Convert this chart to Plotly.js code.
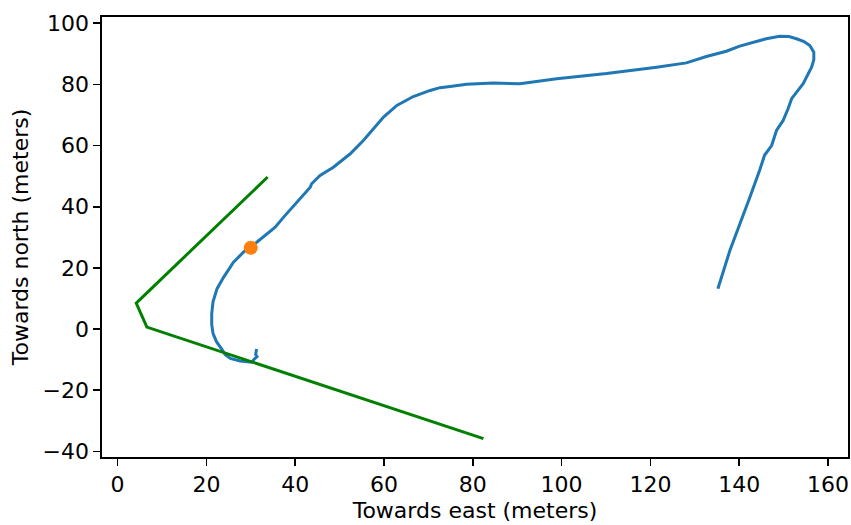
<!DOCTYPE html>
<html>
<head>
<meta charset="utf-8">
<script src="https://cdn.plot.ly/plotly-3.0.1.min.js"></script>
<style>html,body{margin:0;padding:0;background:#fff;}#chart{width:851px;height:525px;}</style>
</head>
<body>
<div id="chart"></div>
<script>
// Trajectory (blue), meters east / north
const trackEast = [31.3, 31.1, 31.4, 30.9, 30.2, 28.8, 27.6, 25.4, 24.2, 23.5, 22.3, 21.5, 21.2, 21.2, 21.5, 22.4, 23.9, 26.1, 28.4, 30.0, 31.4, 33.6, 35.5, 37.4, 41.1, 43.4, 43.7, 45.6, 48.6, 52.4, 55.4, 57.6, 59.9, 62.9, 66.6, 70.4, 72.6, 74.9, 78.6, 84.6, 90.6, 98.9, 110.1, 121.4, 128.1, 132.6, 137.1, 140.1, 143.1, 146.1, 149.1, 151.2, 152.9, 154.6, 155.9, 156.8, 156.8, 156.3, 154.4, 151.8, 151.0, 149.9, 148.4, 147.3, 145.7, 144.6, 142.4, 140.1, 137.9, 135.2];
const trackNorth = [-6.5, -8.3, -9.0, -9.6, -10.8, -10.7, -10.4, -9.6, -8.3, -6.6, -4.2, -1.5, 1.5, 5.0, 9.0, 13.2, 17.0, 21.9, 25.2, 26.8, 28.4, 31.2, 33.3, 36.6, 42.6, 46.4, 47.5, 50.2, 52.9, 57.3, 61.7, 65.5, 69.3, 73.1, 76.0, 78.0, 78.9, 79.3, 80.0, 80.4, 80.2, 81.8, 83.5, 85.6, 87.0, 89.1, 90.8, 92.5, 93.6, 94.9, 95.7, 95.6, 94.9, 94.0, 92.7, 90.5, 88.0, 85.6, 80.2, 75.3, 72.0, 68.2, 64.9, 60.0, 56.8, 51.9, 43.1, 34.4, 25.7, 13.2];
// Reference path (green)
const pathEast = [33.8, 4.2, 6.6, 82.4];
const pathNorth = [49.7, 8.5, 0.65, -35.8];
// Current position (orange)
const posEast = [30.0];
const posNorth = [26.6];

const xTicks = [0, 20, 40, 60, 80, 100, 120, 140, 160];
const yTicks = [-40, -20, 0, 20, 40, 60, 80, 100];

const traces = [
  {x: trackEast, y: trackNorth, type: 'scatter', mode: 'lines', line: {color: '#1f77b4', width: 3}, hoverinfo: 'skip'},
  {x: posEast, y: posNorth, type: 'scatter', mode: 'markers', marker: {color: '#ff7f0e', size: 14}, hoverinfo: 'skip'},
  {x: pathEast, y: pathNorth, type: 'scatter', mode: 'lines', line: {color: '#008000', width: 3}, hoverinfo: 'skip'}
];

const FS = 22;
const axisCommon = {
  showgrid: false, zeroline: false, showline: true, mirror: true,
  linecolor: '#000', linewidth: 1.6, ticks: 'outside', ticklen: 7, tickwidth: 1.6, tickcolor: '#000',
  tickfont: {family: 'DejaVu Sans', size: FS, color: '#000'}, automargin: false
};

const layout = {
  width: 851, height: 525,
  margin: {l: 102, r: 3, t: 17, b: 68},
  paper_bgcolor: '#fff', plot_bgcolor: '#fff',
  showlegend: false,
  font: {family: 'DejaVu Sans', size: FS, color: '#000'},
  xaxis: Object.assign({}, axisCommon, {
    range: [-3.51, 164.5], tickvals: xTicks, ticktext: xTicks.map(String),
    title: {text: 'Towards east (meters)', font: {family: 'DejaVu Sans', size: FS, color: '#000'}, standoff: 6}
  }),
  yaxis: Object.assign({}, axisCommon, {
    range: [-41.8, 102.0], tickvals: yTicks,
    title: {text: 'Towards north (meters)', font: {family: 'DejaVu Sans', size: FS, color: '#000'}, standoff: 8}
  })
};

Plotly.newPlot('chart', traces, layout, {staticPlot: true, displayModeBar: false});
</script>
</body>
</html>
